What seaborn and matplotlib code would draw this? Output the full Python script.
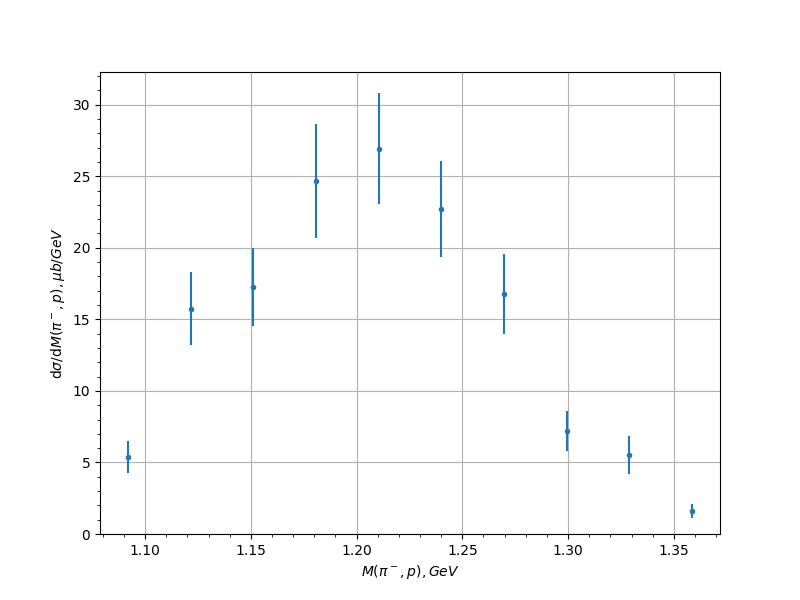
import matplotlib
matplotlib.use('Agg')
import matplotlib.pyplot as plt
import numpy as np
import pandas as pd
import seaborn as sns

# invariant mass bin centres and measured cross section
mass = [1.092, 1.1217, 1.151, 1.181, 1.2104, 1.240, 1.2698, 1.2995, 1.3288, 1.3585]
dsigma = [5.38, 15.73, 17.27, 24.69, 26.92, 22.73, 16.78, 7.2, 5.52, 1.6]
err = [1.12, 2.55, 2.73, 3.99, 3.88, 3.36, 2.8, 1.43, 1.3, 0.5]

data = pd.DataFrame({'mass': mass, 'dsigma': dsigma, 'err': err})

fig, ax = plt.subplots(figsize=(8, 6), dpi=100)
ax.errorbar(data['mass'], data['dsigma'], yerr=data['err'], fmt='none', ecolor='#1f77b4')
sns.scatterplot(data=data, x='mass', y='dsigma', ax=ax, color='#1f77b4', s=16,
                edgecolor='#1f77b4', linewidth=0, zorder=3)

ax.set_ylim(bottom=0)
ax.minorticks_on()
ax.grid(True, which='major')
ax.set_xlabel(r'$M(\pi^-, p), GeV$')
ax.set_ylabel(r'd$\sigma$/d$M(\pi^-, p), \mu b/GeV$')

plt.savefig('out.png')
plt.close()
